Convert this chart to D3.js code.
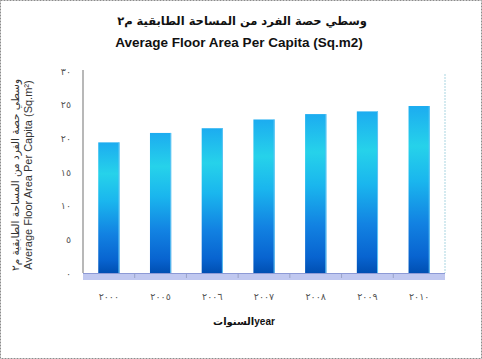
<!DOCTYPE html>
<html>
<head>
<meta charset="utf-8">
<script src="https://cdnjs.cloudflare.com/ajax/libs/d3/7.8.5/d3.min.js"></script>
<style>
  html, body { margin: 0; padding: 0; background: #fff; }
  svg { display: block; }
  text { font-family: "Liberation Sans", "DejaVu Sans", sans-serif; }
</style>
</head>
<body>
<svg id="chart" width="482" height="359"></svg>
<script>
// ---- data ----
const years = ["٢٠٠٠", "٢٠٠٥", "٢٠٠٦", "٢٠٠٧", "٢٠٠٨", "٢٠٠٩", "٢٠١٠"];
const floorArea = [19.4, 20.8, 21.5, 22.8, 23.6, 24.0, 24.8];
const yTicks = [0, 5, 10, 15, 20, 25, 30];
const yTickLabels = ["٠", "٥", "١٠", "١٥", "٢٠", "٢٥", "٣٠"];
const titleAr = "وسطي حصة الفرد من المساحة الطابقية م٢";
const titleEn = "Average Floor Area Per Capita (Sq.m2)";
const yTitleAr = "وسطي حصة الفرد من المساحة الطابقية م٢";
const yTitleEn = "Average Floor Area Per Capita (Sq.m²)";
const xTitle = "السنواتyear";

// ---- layout ----
const svg = d3.select("#chart");
const W = 482, H = 359;
const plot = { left: 83, right: 445, top: 71, bottom: 273 };

// outer dashed border
svg.append("rect").attr("x", 0.5).attr("y", 0.5).attr("width", W - 1).attr("height", H - 1)
  .attr("fill", "#fff").attr("stroke", "#8c8c8c").attr("stroke-dasharray", "2,1");

const x = d3.scaleBand().domain(years).range([plot.left, plot.right]).paddingInner(0.59).paddingOuter(0.295);
const y = d3.scaleLinear().domain([0, 30]).range([plot.bottom, plot.top]);

// gradient
const defs = svg.append("defs");
const grad = defs.append("linearGradient").attr("id", "barGrad")
  .attr("x1", 0).attr("y1", 0).attr("x2", 0).attr("y2", 1);
[["0%", "#1cacf0"], ["24%", "#26d2ea"], ["45%", "#1ab6ee"], ["70%", "#1282e2"], ["90%", "#0864d0"], ["100%", "#004fb2"]]
  .forEach(([o, c]) => grad.append("stop").attr("offset", o).attr("stop-color", c));

// walls
svg.append("line").attr("x1", plot.left).attr("x2", plot.left).attr("y1", y(30) - 1).attr("y2", plot.bottom)
  .attr("stroke", "#b8b8b8").attr("stroke-width", 2);
svg.append("line").attr("x1", plot.right).attr("x2", plot.right).attr("y1", y(30) + 3).attr("y2", plot.bottom)
  .attr("stroke", "#c6e4ec").attr("stroke-width", 1.5).attr("stroke-dasharray", "2,1");

// floor
svg.append("rect").attr("x", plot.left).attr("y", plot.bottom).attr("width", plot.right - plot.left).attr("height", 7)
  .attr("fill", "#c0c8f0");
svg.append("line").attr("x1", plot.left).attr("x2", plot.right).attr("y1", plot.bottom + 0.5).attr("y2", plot.bottom + 0.5)
  .attr("stroke", "#8d9ad6").attr("stroke-width", 1);
// category separator ticks on floor
svg.selectAll(".sep").data(years.slice(1)).enter().append("line")
  .attr("x1", d => x(d) - (x.step() - x.bandwidth()) / 2)
  .attr("x2", d => x(d) - (x.step() - x.bandwidth()) / 2)
  .attr("y1", plot.bottom + 1).attr("y2", plot.bottom + 5)
  .attr("stroke", "#9aa4c8").attr("stroke-width", 1);

// bars
svg.selectAll(".bar").data(floorArea).enter().append("rect")
  .attr("x", (d, i) => x(years[i]))
  .attr("y", d => y(d))
  .attr("width", x.bandwidth())
  .attr("height", d => plot.bottom - y(d))
  .attr("fill", "url(#barGrad)");
svg.selectAll(".baredge").data(floorArea).enter().append("line")
  .attr("x1", (d, i) => x(years[i]) + x.bandwidth() - 0.5)
  .attr("x2", (d, i) => x(years[i]) + x.bandwidth() - 0.5)
  .attr("y1", d => y(d)).attr("y2", plot.bottom)
  .attr("stroke", "#5fc4f4").attr("stroke-width", 1);

// y axis via d3 axis
const yAxis = d3.axisLeft(y).tickValues(yTicks).tickFormat((d, i) => yTickLabels[i]).tickSize(0).tickPadding(12);
const ya = svg.append("g").attr("transform", `translate(${plot.left},0)`).call(yAxis);
ya.select(".domain").remove();
ya.selectAll("text").attr("fill", "#555").style("font-size", "9.5px").style("font-family", "DejaVu Sans");

// x axis
const xAxis = d3.axisBottom(x).tickSize(0).tickPadding(16);
const xa = svg.append("g").attr("transform", `translate(0,${plot.bottom + 4})`).call(xAxis);
xa.select(".domain").remove();
xa.selectAll("text").attr("fill", "#555").style("font-size", "9.5px").style("font-family", "DejaVu Sans");

// titles
svg.append("text").attr("x", 242).attr("y", 25).attr("text-anchor", "middle")
  .style("font-size", "11.5px").style("font-weight", "bold").style("font-family", "DejaVu Sans").attr("fill", "#111").text(titleAr);
svg.append("text").attr("x", 239).attr("y", 47).attr("text-anchor", "middle")
  .style("font-size", "13.5px").style("font-weight", "bold").attr("fill", "#111").text(titleEn);

// y title
const yt = svg.append("g").attr("transform", "translate(0,175) rotate(-90)");
yt.append("text").attr("x", 0).attr("y", 19).attr("text-anchor", "middle")
  .style("font-size", "10.5px").style("font-family", "DejaVu Sans").attr("fill", "#333").text(yTitleAr);
yt.append("text").attr("x", 0).attr("y", 32).attr("text-anchor", "middle")
  .style("font-size", "11px").attr("fill", "#333").text(yTitleEn);

// x title
svg.append("text").attr("x", 244).attr("y", 325).attr("text-anchor", "middle")
  .style("font-size", "10px").style("font-weight", "bold").attr("fill", "#111").text(xTitle);
</script>
</body>
</html>
